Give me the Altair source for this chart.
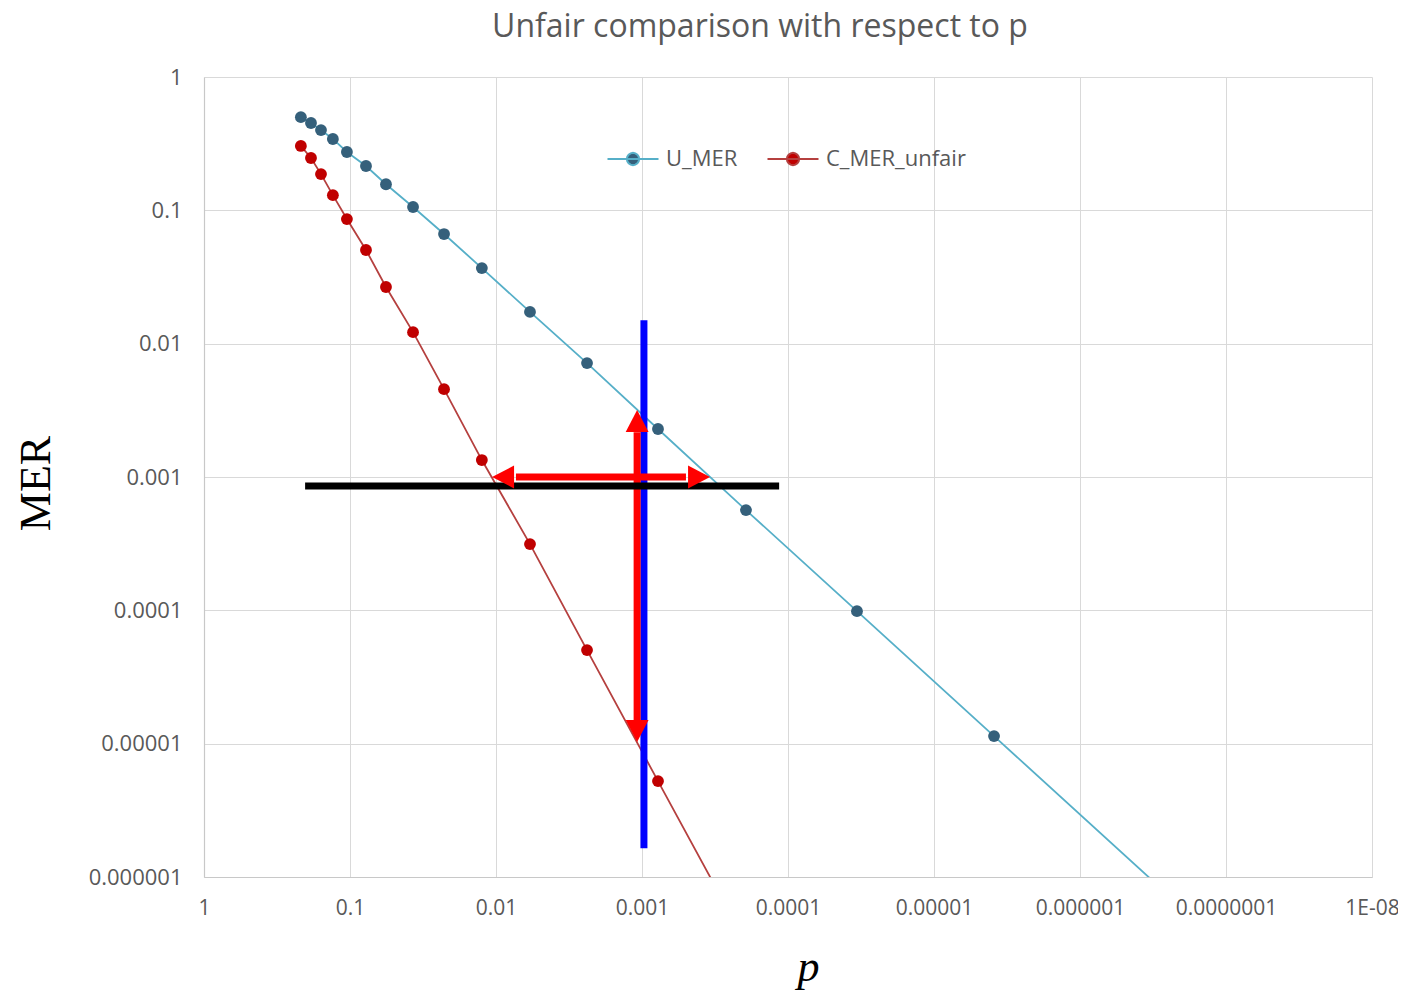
import math
import altair as alt
import pandas as pd

# ---- data ----
p_vals = [0.217, 0.185, 0.158, 0.131, 0.105, 0.0777, 0.0567, 0.037, 0.0227, 0.0125,
          0.00585, 0.00238, 0.000777, 0.000194, 3.37e-5, 3.88e-6, 2.0e-7]
u_mer = [0.50, 0.452, 0.40, 0.343, 0.274, 0.215, 0.157, 0.106, 0.0664, 0.0369,
         0.0173, 0.00715, 0.00229, 0.000565, 9.86e-5, 1.14e-5, 5.9e-7]
c_mer_unfair = [0.304, 0.247, 0.187, 0.130, 0.086, 0.0504, 0.0266, 0.0122, 0.00456, 0.00134,
                0.000314, 5.03e-5, 5.24e-6, 3.2e-7]

series_names = ["U_MER", "C_MER_unfair"]
line_colors = ["#56AFC8", "#B5403F"]
marker_colors = ["#35607B", "#C00000"]

x_ticks = [1, 0.1, 0.01, 0.001, 0.0001, 1e-5, 1e-6, 1e-7, 1e-8]
y_ticks = [1, 0.1, 0.01, 0.001, 0.0001, 1e-5, 1e-6]

# annotation shapes (data coordinates)
black_line = {"p": [0.203], "p2": [1.15e-4], "MER": [8.55e-4]}
blue_line = {"p": [0.00097], "MER": [0.015], "MER2": [1.64e-6]}
red_v_shaft = {"p": [0.00108], "MER": [0.00217], "MER2": [1.5e-5]}
red_h_shaft = {"p": [0.0073], "p2": [5.0e-4], "MER": [0.001]}
arrow_tips = {"p": [0.00108, 0.00108, 0.01064, 3.42e-4],
              "MER": [0.00318, 1.03e-5, 0.001, 0.001],
              "ang": [0, 180, 270, 90]}

rows = []
for name, vals in zip(series_names, [u_mer, c_mer_unfair]):
    for p, m in zip(p_vals, vals):
        rows.append({"p": p, "MER": m, "series": name})
df = pd.DataFrame(rows)

FONT = "Open Sans"
GRAY = "#595959"

xs = alt.Scale(type="log", domain=[1e-8, 1], reverse=True)
ys = alt.Scale(type="log", domain=[1e-6, 1])

x_axis = alt.Axis(values=x_ticks, grid=True, ticks=False,
                  labelExpr="datum.value < 5e-8 ? '1E-08' : format(datum.value, '.7~f')",
                  labelFont=FONT, labelFontSize=21, labelColor=GRAY, labelPadding=20,
                  labelFlush=False, labelOverlap=False,
                  title="p", titleFont="Liberation Serif", titleFontStyle="italic",
                  titleFontWeight="normal", titleFontSize=44, titleColor="black",
                  titleX=604, titleY=103, titleAlign="center", titleBaseline="alphabetic")
y_axis = alt.Axis(values=y_ticks, grid=True, ticks=False,
                  labelExpr="format(datum.value, '.7~f')",
                  labelFont=FONT, labelFontSize=22, labelColor=GRAY, labelPadding=22,
                  labelFlush=False, labelOverlap=False,
                  title="MER", titleFont="Liberation Serif", titleFontWeight="normal",
                  titleFontSize=44, titleColor="black", titleAngle=270,
                  titleX=-168, titleY=406, titleAlign="center", titleBaseline="middle")

# legend symbol: short line with a dot (polygonal circle)
r = 0.36
circle_pts = " ".join(
    f"L{r * math.cos(2 * math.pi * k / 16):.3f},{r * math.sin(2 * math.pi * k / 16):.3f}"
    for k in range(1, 16)
)
legend_path = f"M-1.5,0L1.5,0M{r:.3f},0 {circle_pts}Z"
leg = alt.Legend(orient="none", legendX=411, legendY=64, direction="horizontal",
                 title=None, symbolType=legend_path, symbolSize=1156,
                 symbolStrokeWidth=2, labelFont=FONT, labelFontSize=22,
                 labelColor=GRAY, labelOffset=15, columnPadding=25)

stroke_scale = alt.Scale(domain=series_names, range=line_colors)
fill_scale = alt.Scale(domain=series_names, range=marker_colors)

base = alt.Chart(df)
lines = base.mark_line(clip=True, strokeWidth=1.8).encode(
    x=alt.X("p:Q", scale=xs, axis=x_axis),
    y=alt.Y("MER:Q", scale=ys, axis=y_axis),
    stroke=alt.Stroke("series:N", scale=stroke_scale, legend=leg),
    detail="series:N",
)

points = base.mark_point(clip=True, filled=True, size=140, opacity=1, strokeWidth=0).encode(
    x=alt.X("p:Q", scale=xs),
    y=alt.Y("MER:Q", scale=ys),
    fill=alt.Fill("series:N", scale=fill_scale, legend=leg),
    stroke=alt.Stroke("series:N", scale=stroke_scale, legend=leg),
)

blue = alt.Chart(pd.DataFrame(blue_line)).mark_rule(color="#0000FF", strokeWidth=7).encode(
    x=alt.X("p:Q", scale=xs),
    y=alt.Y("MER:Q", scale=ys),
    y2="MER2:Q",
)
red_v = alt.Chart(pd.DataFrame(red_v_shaft)).mark_rule(color="#FF0000", strokeWidth=7).encode(
    x=alt.X("p:Q", scale=xs),
    y=alt.Y("MER:Q", scale=ys),
    y2="MER2:Q",
)
black = alt.Chart(pd.DataFrame(black_line)).mark_rule(color="#000000", strokeWidth=7).encode(
    x=alt.X("p:Q", scale=xs),
    x2="p2:Q",
    y=alt.Y("MER:Q", scale=ys),
)
red_h = alt.Chart(pd.DataFrame(red_h_shaft)).mark_rule(color="#FF0000", strokeWidth=7).encode(
    x=alt.X("p:Q", scale=xs),
    x2="p2:Q",
    y=alt.Y("MER:Q", scale=ys),
)
heads = alt.Chart(pd.DataFrame(arrow_tips)).mark_point(
    shape="M0,0L-0.52,1L0.52,1Z", filled=True, size=1936, color="#FF0000", opacity=1
).encode(
    x=alt.X("p:Q", scale=xs),
    y=alt.Y("MER:Q", scale=ys),
    angle=alt.Angle("ang:Q", scale=None),
)

chart = alt.layer(lines, points, blue, red_v, black, red_h, heads).properties(
    width=1168, height=800,
    title=alt.TitleParams("Unfair comparison with respect to p", font=FONT, fontSize=32,
                          fontWeight="normal", color=GRAY, anchor="middle", dx=-28, offset=22),
    autosize=alt.AutoSizeParams(type="none"),
    padding={"left": 196, "top": 69, "right": 26, "bottom": 114},
).configure_axis(
    gridColor="#D9D9D9", gridWidth=1, domainColor="#C8C8C8", domainWidth=1.2,
).configure_view(stroke=None)

chart.save("out.html", embed_options={"renderer": "svg", "actions": False})
